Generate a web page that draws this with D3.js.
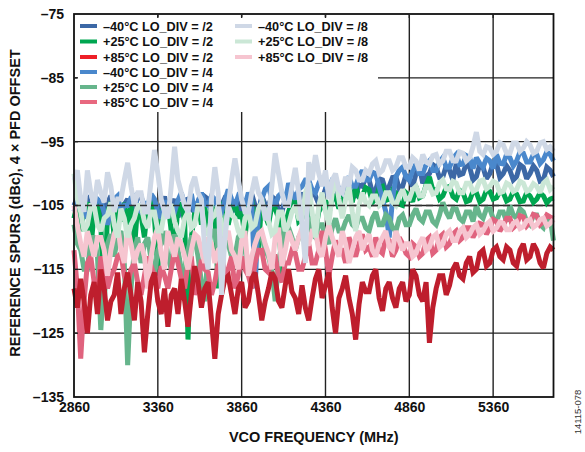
<!DOCTYPE html>
<html><head><meta charset="utf-8">
<script src="https://cdn.jsdelivr.net/npm/d3@7"></script>
<style>
body{margin:0;background:#fff;}
svg{display:block;font-family:"Liberation Sans",Arial,sans-serif;}
</style></head>
<body><svg id="chart" width="585" height="452"></svg>
<script>
const freqs = [
2860,2880,2900,2920,2940,2960,2980,3000,3020,3040,3060,3080,3100,3120,3140,3160,
3180,3200,3220,3240,3260,3280,3300,3320,3340,3360,3380,3400,3420,3440,3460,3480,
3500,3520,3540,3560,3580,3600,3620,3640,3660,3680,3700,3720,3740,3760,3780,3800,
3820,3840,3860,3880,3900,3920,3940,3960,3980,4000,4020,4040,4060,4080,4100,4120,
4140,4160,4180,4200,4220,4240,4260,4280,4300,4320,4340,4360,4380,4400,4420,4440,
4460,4480,4500,4520,4540,4560,4580,4600,4620,4640,4660,4680,4700,4720,4740,4760,
4780,4800,4820,4840,4860,4880,4900,4920,4940,4960,4980,5000,5020,5040,5060,5080,
5100,5120,5140,5160,5180,5200,5220,5240,5260,5280,5300,5320,5340,5360,5380,5400,
5420,5440,5460,5480,5500,5520,5540,5560,5580,5600,5620,5640,5660,5680,5700,5720];

const xTicks = [2860,3360,3860,4360,4860,5360];
const yTicks = [-75,-85,-95,-105,-115,-125,-135];

const m40_div2 = [
-105,-103.8,-106,-104.5,-104,-106.8,-105.5,-104.2,-107,-105.5,-104.5,-103.5,-105,-106.2,-106.5,-104.8,
-104,-105.8,-105,-103.8,-103.5,-105.5,-106,-104.2,-104.5,-106,-105,-103.6,-106,-105.2,-104,-106.8,
-105.5,-104.2,-104,-105.6,-106,-104.4,-105,-103.6,-104,-105.8,-106.5,-104.6,-105,-103.8,-104,-106,
-105.5,-104.2,-106,-104.6,-104.5,-103.2,-105,-106.2,-103.5,-104.8,-105,-103.6,-104,-105.8,-106,-104,
-104,-103,-105,-104.2,-103,-104.8,-104.5,-102.6,-103.5,-104.8,-104,-102.4,-102.5,-104,-104,-102.2,
-103,-101.5,-102,-103.6,-103.5,-101.8,-102,-100.6,-101,-103,-102.5,-100.8,-101,-102.8,-102,-100.6,
-100.5,-102.4,-102,-100.2,-101,-102,-100,-98.8,-101.5,-100.4,-100,-98.6,-99,-100.6,-100.5,-98.8,
-99.5,-101,-98.5,-100.2,-100,-98.4,-99,-101,-100.5,-98.6,-99,-100.8,-100,-98.4,-98.5,-100.6,
-100,-98.8,-99.5,-101,-100.5,-98.6,-99,-100.8,-100,-98.8,-99.5,-101.2,-101,-99,-99.5,-100.5];
const p25_div2 = [
-107,-104.5,-109,-105.5,-104.5,-112,-106,-104.8,-108,-121,-106,-104.5,-110,-105,-107.5,-104.6,
-108,-105,-112,-104.8,-106.5,-110,-105,-104.5,-107,-115,-105.5,-106,-104.6,-109,-112,-105,
-104.8,-107.5,-126,-110,-106,-104.5,-108,-105.2,-109,-105,-106.5,-118,-105,-104.4,-108,-105.5,
-104.5,-107,-106,-110,-105,-104.2,-107,-112,-104,-106.5,-108,-105,-105.5,-107,-116,-108,
-106,-104.2,-104,-107.5,-107,-104.6,-104.5,-109,-109,-106,-105,-104.2,-106.5,-103.5,-103.5,-105.5,
-104,-102.5,-103,-104.5,-102,-103.6,-103.5,-102.2,-102.5,-104.5,-104,-102.2,-102,-104.2,-104,-102.6,
-103,-104.8,-105,-103,-103.5,-104.4,-102,-103.8,-103.5,-101.8,-100.5,-102.6,-102.5,-104,-103.5,-102.2,
-102,-103.6,-104,-102.6,-103,-104.4,-104.2,-102.8,-103,-104.4,-104,-102.6,-102.8,-104,-103.8,-102.8,
-103,-104.3,-104,-102.8,-103.2,-104.4,-104.3,-103,-103.5,-104.5,-104,-103,-103.5,-104.6,-104,-103.8];
const p85_div2 = [
-118,-121,-116.5,-120,-125,-119,-117,-122,-115,-118,-123,-120,-119,-115.5,-122,-118,
-115.5,-119,-123,-117,-120,-128,-122,-117,-115.5,-120,-122,-118,-124,-119,-118,-122,
-116.5,-120,-124,-119,-114.5,-117,-121,-118,-117,-123,-129,-122,-119,-116.5,-116,-119,
-122,-118,-117,-121,-120,-116.5,-115.5,-119,-123,-120,-118,-115.5,-116.5,-120,-121,-117.5,
-115,-118.5,-119.5,-122,-117.5,-121,-123,-119.5,-116.5,-115,-119.5,-117.5,-115.5,-121,-125,-119.5,
-118,-116,-119.5,-122,-126,-120.5,-117,-118.5,-118.5,-116,-115,-119.5,-121.5,-118,-117,-119.5,
-121,-118,-117,-120,-119,-115,-116,-119,-120,-117,-126.5,-121,-118,-116,-116,-119,
-117.5,-115,-114,-116,-116.5,-114,-113,-115.5,-115,-112.5,-112,-114.5,-114,-112,-111.5,-113,
-113.5,-111.5,-112,-114,-114.5,-112,-111,-113.5,-113,-111,-112,-114,-114.8,-112.5,-111.5,-112];
const m40_div4 = [
-106,-104.5,-104,-105.8,-107,-105.5,-105,-104,-104.5,-106,-108,-105.5,-104,-103.5,-106,-105,
-105,-103.8,-103.5,-105.5,-106,-104.6,-105,-103.2,-104,-106,-107,-104.5,-104.5,-105.5,-106,-104.2,
-103,-105,-105,-103.2,-106,-104.5,-103,-104.6,-105,-103.5,-104,-105.5,-106,-104.2,-102.5,-104,
-105,-103.5,-104,-105,-103,-104.4,-118,-106,-104,-102.5,-102,-104,-105,-103.5,-103,-104.5,
-101.5,-103,-104,-102.5,-102,-101,-101,-102.5,-103,-101.5,-100.5,-102,-102.5,-101,-101,-102.4,
-103,-101.5,-100.5,-102,-102,-100.5,-99.5,-101,-101,-99.8,-100,-102,-104,-106,-110,-104,
-100.5,-99.5,-99,-100.5,-101,-99.5,-98.5,-100,-100,-98.6,-98,-99.5,-99.5,-98.2,-97.5,-99,
-99,-97.6,-97,-98.6,-98.5,-97.2,-97.5,-99.2,-97.5,-98.4,-99,-97.6,-98,-99.2,-97,-98.4,
-98.5,-97,-97.5,-98.8,-98,-96.6,-96.8,-98.2,-98.2,-97,-97,-98.4,-97.8,-96.6,-97,-98];
const p25_div4 = [
-108,-111,-112,-115,-115,-110,-110,-113,-124.5,-116,-111,-109.5,-113,-110,-109,-114,
-130,-118,-112,-110,-114,-111,-110,-113.5,-116,-112,-111,-109,-113,-115,-109.5,-112,
-115,-117,-112,-110,-110,-113,-117,-120,-112,-109,-109,-112,-114,-110.5,-111,-113,
-113,-110,-109,-112,-115,-117,-111,-109.5,-110,-112,-113,-115,-120,-114,-111,-109,
-108.5,-110,-112,-110,-109,-108,-107.5,-109.5,-110,-108,-108,-110,-111,-108.5,-107,-109,
-109,-107.5,-106.5,-108,-108.5,-107,-107,-108.5,-109,-107,-106,-108,-108,-106.5,-107,-108.5,
-109,-107,-106.5,-108,-108,-106.5,-105.5,-107,-107.5,-106,-106,-107.5,-108,-106.5,-104.5,-106,
-107,-105.5,-105.5,-107,-107.5,-106,-106,-107.5,-105,-106.5,-107,-105.5,-105.5,-107,-107.5,-106,
-106,-107.5,-105,-106.5,-107,-105.5,-106,-107.5,-108,-106.5,-106.5,-108,-108.5,-107,-107,-110.5];
const p85_div4 = [
-112,-118,-129,-120,-114,-113,-117,-119,-113,-115,-118,-116,-115,-113,-112.5,-116,
-117.5,-115,-114,-117,-119,-116,-113,-114.5,-116,-118,-114.5,-116,-118,-115,-112,-114,
-116.5,-118,-114,-113,-119,-117,-113.5,-115,-115.5,-119,-117,-114,-112.5,-116,-115,-113,
-118,-116,-113,-115,-116,-118,-114,-112,-112,-115,-115.5,-113,-113,-116,-117,-114,
-114,-112,-112.5,-115,-115,-113,-111,-114,-114,-112,-109,-112,-116,-113,-110.5,-112,
-112,-114,-110,-111.5,-113,-111,-109.5,-112,-111.5,-113,-110,-112,-112.5,-110,-110.5,-113,
-112,-110,-111,-112.5,-113,-111,-111.5,-113,-112.5,-110.5,-110,-112.5,-112,-110,-109.5,-111.5,
-111,-109.5,-109,-110.5,-110,-108.5,-108.5,-110,-109,-107.8,-108,-109.5,-108.5,-107.2,-107.5,-109,
-108.2,-107,-107,-108.5,-108,-106.6,-106.8,-108.2,-107.6,-106.4,-106.6,-108,-107.5,-106.5,-106.8,-107];
const m40_div8 = [
-101,-99.5,-104,-106,-99.5,-103,-105,-101,-103,-104.5,-99.8,-102,-106,-104,-104,-101,
-98.3,-102,-105,-103,-103,-106,-106,-101,-96.3,-100,-104,-106,-107,-102,-95.8,-101,
-103,-105,-106,-102,-100.5,-103,-104,-112,-115,-104,-99,-103,-119,-110,-105,-101,
-97.6,-101,-104,-106,-106,-103,-100.5,-103,-104,-107,-107,-102,-96.8,-100,-103,-105,
-105,-102,-99.1,-103,-108,-114,-98.2,-101,-97.1,-100,-102,-99.5,-104,-101,-100,-102.5,
-103,-100.5,-102,-99,-99.5,-101,-101,-99.5,-100,-98.5,-98,-100,-99.5,-98,-98,-99.5,
-99,-97.5,-97.5,-99,-99,-97.5,-98,-99.5,-97,-98.2,-98.5,-97.2,-97,-98.5,-98,-96.5,
-96.5,-98,-98,-96.6,-96.8,-98,-97.5,-95.8,-93.5,-96.5,-97,-95.8,-96,-97,-96.5,-95.2,
-95.5,-96.8,-96.8,-95.2,-95.2,-96.5,-96,-95,-95.5,-96.8,-96.5,-95.2,-95,-96.2,-95.8,-96.5];
const p25_div8 = [
-100,-104,-106,-109,-108,-105,-105,-108,-109,-107,-106.5,-104.5,-108,-110,-105.5,-107,
-110,-108,-107,-105,-105,-107.5,-108.5,-106,-106,-109,-109,-106,-105.5,-104.8,-107.5,-109,
-110,-107,-106,-108.5,-108,-105,-105,-109,-109.5,-107,-106.5,-105,-108,-110,-105,-106.5,
-107,-109,-110,-107,-106,-108.5,-108,-105.5,-104.5,-106,-107.5,-109.5,-109,-106,-106,-109,
-108,-106,-105,-107,-107,-103,-101.5,-106,-110,-105,-103,-106,-108,-103,-100.5,-104,
-107,-104,-102,-106,-109,-105,-103,-104.5,-105,-103.5,-103.5,-105,-104.5,-103,-103,-104.5,
-105,-103.5,-102.5,-104,-104,-102.5,-102,-103.5,-103.5,-102,-102,-103.2,-103,-101.5,-101,-102.4,
-102.5,-101.2,-101.5,-103,-103,-101.5,-101.5,-102.8,-102.5,-101.2,-101,-102.4,-102,-101.2,-101.5,-103,
-102.8,-101.5,-101.8,-102.8,-102.5,-101.2,-101.5,-102.8,-102.5,-101.6,-102,-103,-101.5,-101,-102.5,-102];
const p85_div8 = [
-105,-108,-111,-113,-109,-111,-113,-110,-110,-112,-116,-112,-109.5,-108,-112,-114,
-108.5,-111,-114,-112,-111,-113,-118,-113,-110,-108.5,-112.5,-115,-109,-111,-113,-110,
-111,-113,-115,-112,-109.5,-110,-112,-114,-110,-111,-114,-112,-111.5,-110,-109,-112,
-113,-115,-110.5,-109,-116,-113,-111,-109.5,-109,-111,-112.5,-115,-110,-108.5,-114.5,-112,
-109,-110.5,-112,-110,-108.5,-111,-111,-109,-109,-112,-113,-110,-108,-110,-111.5,-113,
-109,-111,-114,-112,-110,-109,-112,-110.5,-109.5,-112,-113,-111,-110,-109,-111.5,-112,
-109,-110.5,-112,-111,-111,-113,-112.5,-111,-110,-112,-111.5,-110,-109.5,-111.5,-111,-109.5,
-109,-110.5,-110.5,-109,-108.5,-110,-109.5,-108.5,-108,-109.5,-109,-108,-107.5,-109,-108.5,-107.6,
-107.8,-108.8,-108.8,-107.8,-107.5,-108.6,-108.3,-107.4,-107.2,-108.4,-108,-107.2,-107,-108.2,-107.8,-107.2];

const seriesNames = ["\u201340\u00B0C LO_DIV = /2","+25\u00B0C LO_DIV = /2","+85\u00B0C LO_DIV = /2","\u201340\u00B0C LO_DIV = /4","+25\u00B0C LO_DIV = /4","+85\u00B0C LO_DIV = /4","\u201340\u00B0C LO_DIV = /8","+25\u00B0C LO_DIV = /8","+85\u00B0C LO_DIV = /8"];
const seriesValues = [m40_div2,p25_div2,p85_div2,m40_div4,p25_div4,p85_div4,m40_div8,p25_div8,p85_div8];
const lineColors = ["#3c68a6","#00a650","#be1e2d","#4a88cc","#66b58c","#e0637e","#cfd8e6","#cbe7d6","#f6c5d0"];
const legendColors = ["#3c68a6","#00a650","#ee2028","#4a88cc","#66b58c","#e8687f","#cfd8e6","#cbe7d6","#f6c5d0"];
const drawOrder = [0,1,3,4,5,8,7,2,6];

const svg = d3.select("#chart");
const L=74, R=553.5, T=14, B=397;
const x = d3.scaleLinear().domain([2860,5720]).range([L,R]);
const y = d3.scaleLinear().domain([-135,-75]).range([B,T]);

const grid = svg.append("g");
grid.selectAll("line.v").data(xTicks.slice(1)).enter().append("line")
  .attr("x1",d=>x(d)).attr("x2",d=>x(d)).attr("y1",T).attr("y2",B)
  .attr("stroke","#222").attr("stroke-width",1.4);
grid.selectAll("line.h").data(yTicks.slice(1,-1)).enter().append("line")
  .attr("x1",L).attr("x2",R).attr("y1",d=>y(d)).attr("y2",d=>y(d))
  .attr("stroke","#222").attr("stroke-width",1.4);

const line = d3.line().x((d,i)=>x(freqs[i])).y(d=>y(d));
const dataG = svg.append("g");
drawOrder.forEach(k=>{
  dataG.append("path").datum(seriesValues[k])
    .attr("d",line).attr("fill","none")
    .attr("stroke",lineColors[k]).attr("stroke-width",5)
    .attr("stroke-linejoin","miter").attr("stroke-miterlimit",2.2);
});

svg.append("line").attr("x1",L).attr("x2",R).attr("y1",y(-105)).attr("y2",y(-105))
  .attr("stroke","#333").attr("stroke-width",1.4).attr("stroke-dasharray","7,4");

svg.append("rect").attr("x",L+3).attr("y",T+3).attr("width",378-L-3).attr("height",112-T-3).attr("fill","#fff");

svg.append("rect").attr("x",L).attr("y",T).attr("width",R-L).attr("height",B-T)
  .attr("fill","none").attr("stroke","#111").attr("stroke-width",1.8);

svg.selectAll("line.tt").data(xTicks.slice(1)).enter().append("line")
  .attr("x1",d=>x(d)).attr("x2",d=>x(d)).attr("y1",T).attr("y2",T+4)
  .attr("stroke","#222").attr("stroke-width",1.4);
svg.selectAll("line.lt").data(yTicks.slice(1,-1)).enter().append("line")
  .attr("x1",L).attr("x2",L+4).attr("y1",d=>y(d)).attr("y2",d=>y(d))
  .attr("stroke","#222").attr("stroke-width",1.4);

const yAxis = d3.axisLeft(y).tickValues(yTicks).tickSize(0).tickPadding(10)
  .tickFormat(d=>String(d).replace("-","\u2013"));
const gy = svg.append("g").attr("transform",`translate(${L},0)`).call(yAxis);
gy.select(".domain").remove();
gy.selectAll("text").attr("font-family","Liberation Sans, Arial, sans-serif")
  .attr("font-size",14).attr("font-weight","bold").attr("fill","#111");

const xAxis = d3.axisBottom(x).tickValues(xTicks).tickSize(0).tickPadding(5).tickFormat(d3.format("d"));
const gx = svg.append("g").attr("transform",`translate(0,${B})`).call(xAxis);
gx.select(".domain").remove();
gx.selectAll("text").attr("font-family","Liberation Sans, Arial, sans-serif")
  .attr("font-size",14).attr("font-weight","bold").attr("fill","#111");

svg.append("text").attr("x",(L+R)/2).attr("y",442).attr("text-anchor","middle")
  .attr("font-size",14.5).attr("font-weight","bold").attr("fill","#111")
  .text("VCO FREQUENCY (MHz)");
svg.append("text").attr("transform","translate(20,203) rotate(-90)").attr("text-anchor","middle")
  .attr("font-size",14.5).attr("font-weight","bold").attr("fill","#111")
  .text("REFERENCE SPURS (dBc), 4 \u00D7 PFD OFFSET");
svg.append("text").attr("transform","translate(581,412) rotate(-90)").attr("text-anchor","middle")
  .attr("font-size",9.5).attr("fill","#333")
  .text("14115-078");

const legPos = [[80,26],[80,41.5],[80,57],[80,72],[80,87],[80,102],[235,26],[235,41.5],[235,57]];
const lg = svg.append("g");
seriesNames.forEach((nm,k)=>{
  const [lx,ly] = legPos[k];
  lg.append("line").attr("x1",lx).attr("x2",lx+17).attr("y1",ly).attr("y2",ly)
    .attr("stroke",legendColors[k]).attr("stroke-width",4);
  lg.append("text").attr("x",lx+23).attr("y",ly+4.5)
    .attr("font-size",12.7).attr("font-weight","bold").attr("fill","#111").text(nm);
});
</script></body></html>
